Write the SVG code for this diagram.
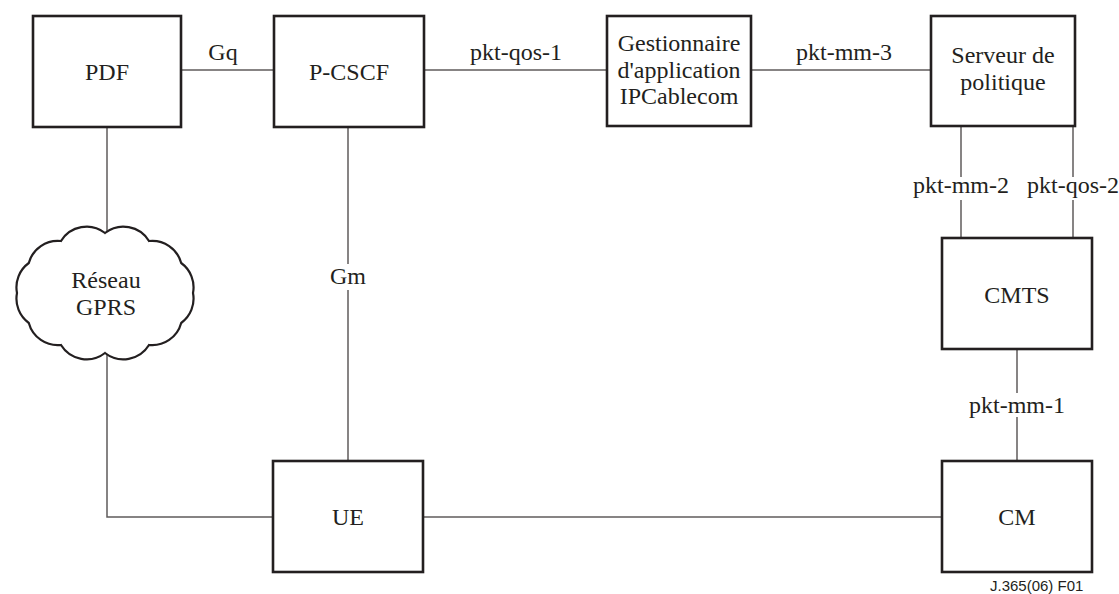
<svg xmlns="http://www.w3.org/2000/svg" width="1119" height="594" viewBox="0 0 1119 594">
<style>
.box{fill:#fff;stroke:#231f20;stroke-width:2.6}
.cloud{fill:#fff;stroke:#231f20;stroke-width:2.2}
.ln{stroke:#5f5b5b;stroke-width:1.5;fill:none}
.t{font-family:"Liberation Serif","Times New Roman",serif;font-size:24px;fill:#231f20;text-anchor:middle}
.f{font-family:"Liberation Sans",Arial,sans-serif;font-size:15px;fill:#231f20}
</style>
<rect width="1119" height="594" fill="#fff"/>
<g id="connectors">
<line class="ln" x1="181" y1="70" x2="274" y2="70"/>
<line class="ln" x1="424" y1="70" x2="607" y2="70"/>
<line class="ln" x1="751" y1="70" x2="931" y2="70"/>
<line class="ln" x1="107" y1="127" x2="107" y2="240"/>
<polyline class="ln" points="107,355 107,517 273,517"/>
<line class="ln" x1="348" y1="127" x2="348" y2="264"/>
<line class="ln" x1="348" y1="290" x2="348" y2="461"/>
<line class="ln" x1="423" y1="517" x2="942" y2="517"/>
<line class="ln" x1="961" y1="126" x2="961" y2="177"/>
<line class="ln" x1="961" y1="200" x2="961" y2="238"/>
<line class="ln" x1="1073" y1="126" x2="1073" y2="177"/>
<line class="ln" x1="1073" y1="200" x2="1073" y2="238"/>
<line class="ln" x1="1017" y1="349" x2="1017" y2="393"/>
<line class="ln" x1="1017" y1="417" x2="1017" y2="461"/>
<text class="t" x="223" y="60">Gq</text>
<text class="t" x="516" y="60">pkt-qos-1</text>
<text class="t" x="844" y="60">pkt-mm-3</text>
<text class="t" x="348" y="284">Gm</text>
<text class="t" x="961" y="193">pkt-mm-2</text>
<text class="t" x="1073" y="193">pkt-qos-2</text>
<text class="t" x="1017" y="413">pkt-mm-1</text>
</g>
<g id="pdf"><rect class="box" x="33" y="16" width="148" height="111"/><text class="t" x="107" y="80">PDF</text></g>
<g id="pcscf"><rect class="box" x="274" y="16" width="150" height="111"/><text class="t" x="349" y="80">P-CSCF</text></g>
<g id="gestionnaire"><rect class="box" x="607" y="16" width="144" height="110"/><text class="t" x="679" y="51">Gestionnaire</text><text class="t" x="679" y="78">d'application</text><text class="t" x="679" y="104">IPCablecom</text></g>
<g id="serveur"><rect class="box" x="931" y="16" width="144" height="110"/><text class="t" x="1003" y="63">Serveur de</text><text class="t" x="1003" y="90">politique</text></g>
<g id="cmts"><rect class="box" x="942" y="238" width="150" height="111"/><text class="t" x="1017" y="303">CMTS</text></g>
<g id="cm"><rect class="box" x="942" y="461" width="150" height="111"/><text class="t" x="1017" y="525">CM</text></g>
<g id="ue"><rect class="box" x="273" y="461" width="150" height="111"/><text class="t" x="348" y="525">UE</text></g>
<g id="gprs">
<path class="cloud" d="M105,233 A30,30 0 0 1 149,241 A30,30 0 0 1 181.2,263 A30,30 0 0 1 193,293 A30,30 0 0 1 181.2,323 A30,30 0 0 1 149,345 A30,30 0 0 1 105,353 A30,30 0 0 1 61,345 A30,30 0 0 1 28.8,323 A30,30 0 0 1 17,293 A30,30 0 0 1 28.8,263 A30,30 0 0 1 61,241 A30,30 0 0 1 105,233 Z"/>
<text class="t" x="106" y="288">Réseau</text><text class="t" x="106" y="315">GPRS</text>
</g>
<text class="f" x="990" y="591">J.365(06)  F01</text>
</svg>
